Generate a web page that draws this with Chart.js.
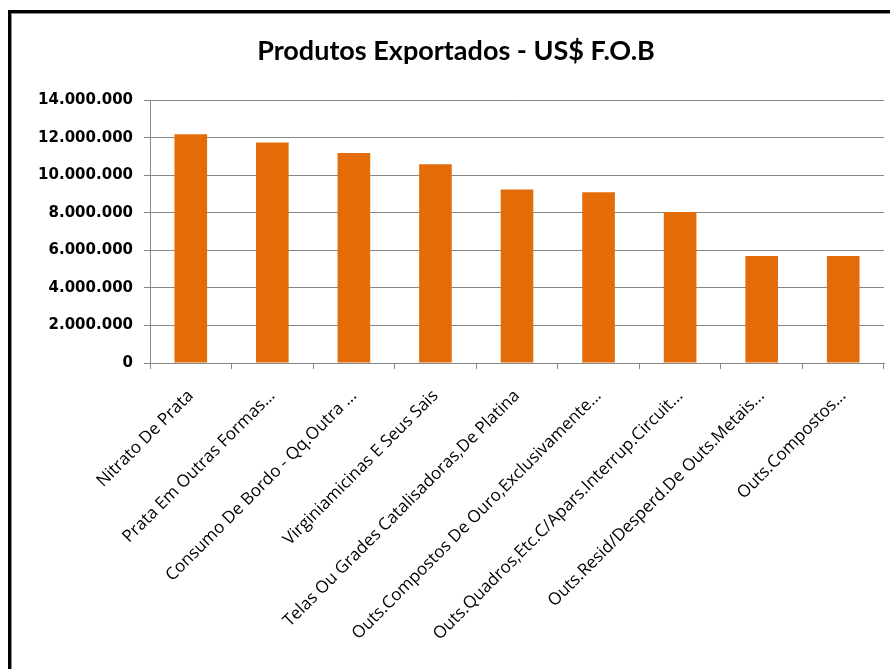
<!DOCTYPE html>
<html>
<head>
<meta charset="utf-8">
<script src="https://cdn.jsdelivr.net/npm/chart.js@4"></script>
<style>
  html, body { margin: 0; padding: 0; background: #fff; overflow: hidden; }
  #wrap { position: relative; width: 890px; height: 669px; }
  #frame {
    position: absolute; left: 8px; top: 10px; width: 900px; height: 700px;
    border-top: 3px solid #000; border-left: 3px solid #000;
    box-shadow: inset 1px 1px 0 #8c8c8c;
  }
  canvas { position: absolute; left: 0; top: 0; }
</style>
</head>
<body>
<div id="wrap">
  <div id="frame"></div>
  <canvas id="chart" width="890" height="669"></canvas>
</div>
<script>
// Produtos exportados, valores em US$ F.O.B
const categorias = [
    'Nitrato De Prata',
    'Prata Em Outras Formas...',
    'Consumo De Bordo - Qq.Outra ...',
    'Virginiamicinas E Seus Sais',
    'Telas Ou Grades Catalisadoras,De Platina',
    'Outs.Compostos De Ouro,Exclusivamente...',
    'Outs.Quadros,Etc.C/Apars.Interrup.Circuit...',
    'Outs.Resid/Desperd.De Outs.Metais...',
    'Outs.Compostos...'
];
const valoresFob = [12200000, 11750000, 11200000, 10600000, 9250000, 9100000, 8050000, 5700000, 5700000];
const eixoMax = 14000000;
const eixoPasso = 2000000;

const corBarra = '#e36c09';
const corGrade = '#868686';

function formatarMilhar(v) {
    return String(v).replace(/\B(?=(\d{3})+(?!\d))/g, '.');
}

const ctx = document.getElementById('chart').getContext('2d');
new Chart(ctx, {
    type: 'bar',
    data: {
        labels: categorias,
        datasets: [{
            label: 'US$ F.O.B',
            data: valoresFob,
            backgroundColor: corBarra,
            borderWidth: 0,
            categoryPercentage: 1,
            barPercentage: 0.4,
        }]
    },
    options: {
        responsive: false,
        animation: false,
        layout: { padding: { left: 28, right: 6, top: 0, bottom: 0 } },
        plugins: {
            legend: { display: false },
            tooltip: { enabled: false },
            title: {
                display: true,
                text: 'Produtos Exportados - US$ F.O.B',
                color: '#000',
                font: { family: 'Lato', size: 27, weight: 'bold' },
                lineHeight: 1.2,
                padding: { top: 35, bottom: 33 }
            }
        },
        scales: {
            x: {
                grid: {
                    offset: true,
                    drawOnChartArea: false,
                    color: corGrade,
                    tickLength: 6,
                },
                border: { color: corGrade, width: 1 },
                ticks: {
                    color: '#000',
                    font: { family: 'Open Sans', size: 17 },
                    minRotation: 45,
                    maxRotation: 45,
                    autoSkip: false,
                    padding: 17,
                },
                afterFit: (scale) => { scale.height = 306; }
            },
            y: {
                min: 0,
                max: eixoMax,
                grid: { color: corGrade, tickLength: 6 },
                border: { color: corGrade, width: 1 },
                ticks: {
                    stepSize: eixoPasso,
                    color: '#000',
                    font: { family: 'DejaVu Sans', size: 15, weight: 'bold' },
                    padding: 11,
                    callback: (v) => formatarMilhar(v)
                },
                afterFit: (scale) => { scale.width = 122; }
            }
        }
    }
});
</script>
</body>
</html>
